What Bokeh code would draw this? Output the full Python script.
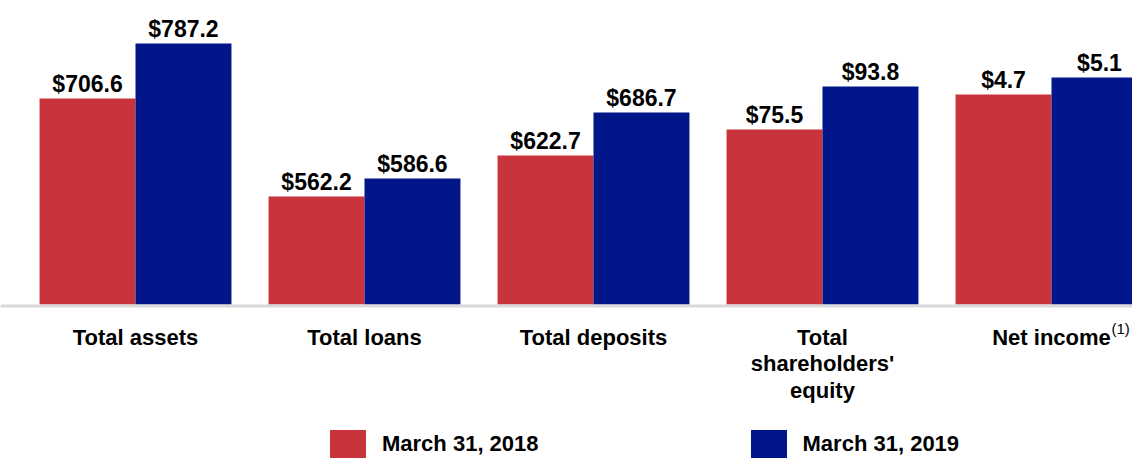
from bokeh.plotting import figure
from bokeh.models import ColumnDataSource, Range1d, Span, Legend, LegendItem
from bokeh.transform import dodge
from bokeh.core.properties import value
from bokeh.embed import file_html
from bokeh.resources import INLINE

# ---- data ----
categories = ["Total assets", "Total loans", "Total deposits",
              "Total\nshareholders'\nequity", "Net income"]
footnote_marks = ["", "", "", "", "(1)"]
series_names = ["March 31, 2018", "March 31, 2019"]
values_2018 = [706.6, 562.2, 622.7, 75.5, 4.7]
values_2019 = [787.2, 586.6, 686.7, 93.8, 5.1]
# displayed bar lengths (the source draws each metric on its own scale)
bar_len_2018 = [206, 108, 149, 175, 210]
bar_len_2019 = [261, 126, 192, 218, 227]

FONT_NAME = "Liberation Sans"
FONT = value(FONT_NAME)
RED = "#C9333C"
BLUE = "#001689"

idx = list(range(len(categories)))
src = ColumnDataSource(dict(
    idx=idx,
    cat=categories,
    mark=footnote_marks,
    h18=bar_len_2018,
    h19=bar_len_2019,
    lab18=[f"${v:.1f}" for v in values_2018],
    lab19=[f"${v:.1f}" for v in values_2019],
    zero=[0] * len(idx),
))

W, H = 1132, 458
spacing_px = 229
first_center_px = 135
base_px = 304
x0 = -first_center_px / spacing_px
x1 = (W - first_center_px) / spacing_px

p = figure(width=W, height=H, x_range=Range1d(x0, x1),
           y_range=Range1d(-(H - base_px), base_px),
           x_axis_type=None, y_axis_type=None, toolbar_location=None,
           output_backend="svg", min_border=0)
p.grid.visible = False
p.outline_line_color = None

bw = 0.419
off = bw / 2

p.add_layout(Span(location=-1.5, dimension="width", line_color="#D9D9D9", line_width=3))

r18 = p.vbar(x=dodge("idx", -off), top="h18", bottom=0, width=bw, source=src,
             fill_color=RED, line_color=None)
r19 = p.vbar(x=dodge("idx", off), top="h19", bottom=0, width=bw, source=src,
             fill_color=BLUE, line_color=None)

common = dict(text_font=FONT, text_font_style="bold", text_font_size="23px",
              text_color="black", text_align="center")
p.text(x=dodge("idx", -off), y="h18", text="lab18", source=src,
       text_baseline="alphabetic", y_offset=-15, **common)
p.text(x=dodge("idx", off), y="h19", text="lab19", source=src,
       text_baseline="alphabetic", y_offset=-15, **common)

# category labels
cat_style = dict(common, text_font_size="22px")
p.text(x="idx", y="zero", text="cat", source=src, text_baseline="top",
       y_offset=20, text_line_height=1.07, **cat_style)
p.text(x="idx", y="zero", text="mark", source=src, text_baseline="top",
       x_offset=60, y_offset=15, text_font=FONT, text_font_size="15px",
       text_color="black", text_align="left")

# legend
legend = Legend(items=[LegendItem(label=series_names[0], renderers=[r18]),
                       LegendItem(label=series_names[1], renderers=[r19])],
                location=(325, -4), orientation="horizontal",
                glyph_width=45, glyph_height=36, label_standoff=12, spacing=207,
                padding=0, margin=0, border_line_color=None,
                background_fill_alpha=0,
                label_text_font=FONT_NAME, label_text_font_style="bold",
                label_text_font_size="22px", label_text_color="black")
p.add_layout(legend, "center")

open("out.html", "w").write(file_html(p, INLINE))
